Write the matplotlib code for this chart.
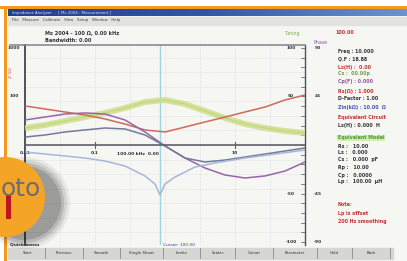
import numpy as np
import matplotlib
matplotlib.use("Agg")
import matplotlib.pyplot as plt
from matplotlib.patches import Rectangle, Circle

plt.rcParams["font.family"] = ["DejaVu Sans"]

# =============================
#  Data
# =============================
freq = [0.01, 0.0193, 0.0373, 0.072, 0.139, 0.268, 0.518, 1.0,
        1.93, 3.73, 7.2, 13.9, 26.8, 51.8, 100]
tuning = [17.5, 20.6, 24.7, 28.8, 33.0, 38.1, 44.3, 46.4,
          42.2, 35.0, 27.8, 21.6, 17.5, 14.4, 12.4]
magnitude = [40.2, 37.1, 34.0, 30.9, 26.8, 21.6, 15.5, 13.4,
             18.5, 23.7, 28.8, 34.0, 39.1, 46.4, 51.5]
phase = [25.8, 28.8, 31.9, 33.0, 31.9, 25.8, 13.4, -1.0,
         -13.4, -23.7, -30.9, -34.0, -31.9, -26.8, -17.5]
reactance = [8.2, 10.3, 13.4, 15.5, 17.5, 16.5, 10.3, -1.0,
             -13.4, -17.5, -15.5, -12.4, -9.3, -6.2, -3.1]

freq_dip = [0.01, 0.0193, 0.0373, 0.072, 0.139, 0.268, 0.518, 0.72,
            0.848, 1.0, 1.39, 2.68, 5.18, 13.9, 37.3, 100]
resistance = [-7.2, -9.3, -11.3, -13.4, -16.5, -21.6, -31.9, -40.2,
              -51.5, -40.2, -33.0, -22.7, -18.5, -13.4, -9.3, -5.2]

cursor_freq = 0.848
x_tick_vals = [0.01, 0.1, 10]
x_tick_text = ["0.01", "0.1", "10"]
right_ticks = [100, 50, -50, -100]
right_text_l = ["100", "50", "-50", "-100"]
right_text_r = ["90", "45", "-45", "-90"]
left_ticks = [100, 50]
left_text = ["1000", "100"]

panel_lines = [
    ("Freq : 10.000", "#303038"), ("Q.F : 18.88", "#303038"),
    ("Ls(H) :  0.00", "#c03030"), ("Cs :  00.00p", "#6aa040"),
    ("Cp(F) : 0.000", "#9050a0"), ("Rs(\u03a9) : 1.000", "#c03030"),
    ("D-Factor : 1.00", "#303038"), ("Zin(k\u03a9) : 10.00  \u03a9", "#4050b0"),
    ("Equivalent Circuit", "#c03030"), ("Ls(H) : 0.000  H", "#303038"),
    ("Equivalent Model", "#4a9a30"),
    ("Rs :   10.00", "#303038"), ("Ls :   0.000", "#303038"),
    ("Cs :   0.000  pF", "#303038"), ("Rp :   10.00", "#303038"),
    ("Cp :   0.0000", "#303038"), ("Lp :   100.00  \u00b5H", "#303038"),
    ("Note:", "#c03030"), ("Lp is offset", "#c03030"),
    ("200 Hz smoothing", "#c03030"),
]
panel_y = [52, 59, 67, 74, 81, 91, 98, 107, 117, 125, 138,
           146, 153, 160, 168, 175, 182, 205, 213, 221]

buttons = ["Start", "Previous", "Smooth", "Single Shoot", "Limits",
           "Scales", "Cursor", "Parameter", "Hold", "Back"]
button_edges = [10, 45, 83, 120, 163, 200, 235, 273, 317, 352, 390]

# =============================
#  Figure & background overlay (pixel coordinates)
# =============================
W, H = 407, 261
fig = plt.figure(figsize=(W / 100, H / 100), dpi=100)
fig.patch.set_facecolor("white")

bg = fig.add_axes([0, 0, 1, 1], zorder=0)
bg.set_xlim(0, W)
bg.set_ylim(H, 0)
bg.axis("off")

bg.add_patch(Rectangle((7, 9), W - 7, H - 9, color="#f6f6f3", zorder=0))

# title bar gradient
grad = np.linspace(0, 1, 200).reshape(1, -1)
cmap = matplotlib.colors.LinearSegmentedColormap.from_list(
    "tb", ["#20408e", "#3058a8", "#6a94d0"])
bg.imshow(grad, extent=[8, W, 16.5, 10], cmap=cmap, aspect="auto", zorder=1)
bg.text(12, 13.3, "Impedance Analyzer  -  [ Ms 2004 : Measurement ]",
        fontsize=2.8, color="#dde6ff", va="center", zorder=2)

# menu bar
bg.add_patch(Rectangle((8, 16.5), W - 8, 8, color="#e2e2e0", zorder=1))
bg.text(12, 20.5, "File   Measure   Calibrate   View   Setup   Window   Help",
        fontsize=2.8, color="#404040", va="center", zorder=2)

# header text
bg.text(45, 33, "Ms 2004 - 100 \u03a9, 0.00 kHz", fontsize=3.6,
        weight="bold", color="#303038", va="center")
bg.text(45, 41, "Bandwidth: 0.00", fontsize=3.6, weight="bold",
        color="#303038", va="center")
bg.plot([10, 25], [45, 45], color="#8a8a92", lw=1.2)
bg.text(285, 33, "Tuning", fontsize=3.4, color="#7ab040", va="center")
bg.text(335, 33, "100.00", fontsize=3.4, color="#c03030",
        weight="bold", va="center")
bg.text(313, 42, "Phase", fontsize=3.4, color="#9050a0", va="center")

# right-hand readout panel
for (txt, col), yy in zip(panel_lines, panel_y):
    kw = {}
    if txt == "Equivalent Model":
        kw["bbox"] = dict(facecolor="#cfeeb8", edgecolor="none", pad=0.6)
    bg.text(338, yy, txt, fontsize=3.4, color=col, va="center",
            weight="bold", **kw)

# left axis labels
bg.text(10, 244, "Quick menu", fontsize=3.2, color="#303038",
        va="center", weight="bold")
bg.text(163, 245, "Cursor: 100.00", fontsize=3.2, color="#3040b0",
        va="center")

# button row
bg.add_patch(Rectangle((8, 247.5), 385, 11, color="#d6d6d4", zorder=1))
for i, name in enumerate(buttons):
    x0, x1 = button_edges[i], button_edges[i + 1]
    bg.plot([x1, x1], [248, 258], color="#8a8a8a", lw=0.6, zorder=2)
    bg.text((x0 + x1) / 2, 253, name, fontsize=2.8, color="#303030",
            ha="center", va="center", zorder=2)

# =============================
#  Main plot
# =============================
ax = fig.add_axes([25 / W, 16 / H, 280 / W, 200 / H], zorder=1)
ax.patch.set_alpha(0)
ax.set_xscale("log")
ax.set_xlim(0.01, 100)
ax.set_ylim(-103, 103)

ax.set_xticks([0.01, 0.0316, 0.1, 0.316, 1, 3.16, 10, 31.6, 100])
ax.set_xticks([], minor=True)
ax.set_yticks(np.arange(-90, 101, 15))
ax.grid(color="#c8ccd8", lw=0.4, ls=(0, (1, 1.5)))
ax.tick_params(length=0, labelbottom=False, labelleft=False)

ax.spines["bottom"].set_visible(False)
ax.spines["left"].set_color("#505058")
ax.spines["left"].set_linewidth(1.4)
ax.spines["right"].set_color("#505058")
ax.spines["right"].set_linewidth(1.0)
ax.spines["top"].set_color("#8a8a92")
ax.spines["top"].set_linewidth(1.2)

# curves
ax.plot(freq, tuning, color="#cfe08e", lw=4.2, alpha=0.9, zorder=3,
        solid_capstyle="butt")
ax.plot(freq, tuning, color="#b8cf70", lw=0.8, alpha=0.6, zorder=3)
ax.plot(freq, magnitude, color="#cc6a5c", lw=1.1, zorder=4)
ax.plot(freq, phase, color="#9a64aa", lw=1.1, zorder=4)
ax.plot(freq, reactance, color="#737a98", lw=1.1, zorder=4)
ax.plot(freq_dip, resistance, color="#a8b6dc", lw=1.1, zorder=4)

# zero axis and cursor
ax.axhline(0, color="#606068", lw=1.2, zorder=5)
ax.axvline(cursor_freq, color="#9ad6e0", lw=1.0, zorder=2)
for f, t in zip(x_tick_vals, x_tick_text):
    ax.plot([f, f], [-3, 3], color="#606068", lw=0.8, zorder=5)
    ax.text(f, -6, t, fontsize=3.2, color="#303038", ha="center",
            va="top", weight="bold")
ax.text(cursor_freq * 0.95, -9, "100.00 kHz  0.00", fontsize=3.2,
        color="#303038", ha="right", va="center", weight="bold")

# right axis tick marks and labels on both sides
for v in np.arange(-100, 101, 10):
    ax.plot([0.985, 1.0], [v, v], transform=ax.get_yaxis_transform(),
            color="#505058", lw=0.5, clip_on=False)
for v, tl, tr in zip(right_ticks, right_text_l, right_text_r):
    ax.text(0.95, v, tl, transform=ax.get_yaxis_transform(), fontsize=3.2,
            ha="center", va="center", weight="bold", color="#303038")
    ax.text(1.045, v, tr, transform=ax.get_yaxis_transform(), fontsize=3.2,
            ha="center", va="center", weight="bold", color="#303038",
            clip_on=False)
for v, t in zip(left_ticks, left_text):
    ax.text(-0.04, v, t, transform=ax.get_yaxis_transform(), fontsize=3.2,
            ha="center", va="center", weight="bold", color="#303038",
            clip_on=False)
ax.text(-0.05, 75, "Z (\u03a9)", transform=ax.get_yaxis_transform(),
        fontsize=3.2, rotation=90, ha="center", va="center",
        color="#c05050", clip_on=False)

# =============================
#  Foreground: frame and logo
# =============================
fg = fig.add_axes([0, 0, 1, 1], zorder=3)
fg.set_xlim(0, W)
fg.set_ylim(H, 0)
fg.axis("off")
fg.patch.set_alpha(0)

fg.add_patch(Rectangle((0, 6), W, 3, color="#f39a1e", lw=0))
fg.add_patch(Rectangle((4, 6), 2.6, H - 6, color="#f39a1e", lw=0))

# drop shadow to the right of the badge
for r, a in [(46, 0.06), (43, 0.09), (40, 0.12), (37, 0.15)]:
    fg.add_patch(Circle((24, 203), r, color="black", alpha=a, lw=0))
fg.add_patch(Circle((5, 197), 40, color="#f5a526", lw=0))
fg.text(21, 189, "oto", fontsize=18, color="#6c6c74", ha="center",
        va="center")
fg.add_patch(Rectangle((6, 195), 5, 24, color="#c0141c", lw=0))

fig.savefig("out.png", dpi=100)
